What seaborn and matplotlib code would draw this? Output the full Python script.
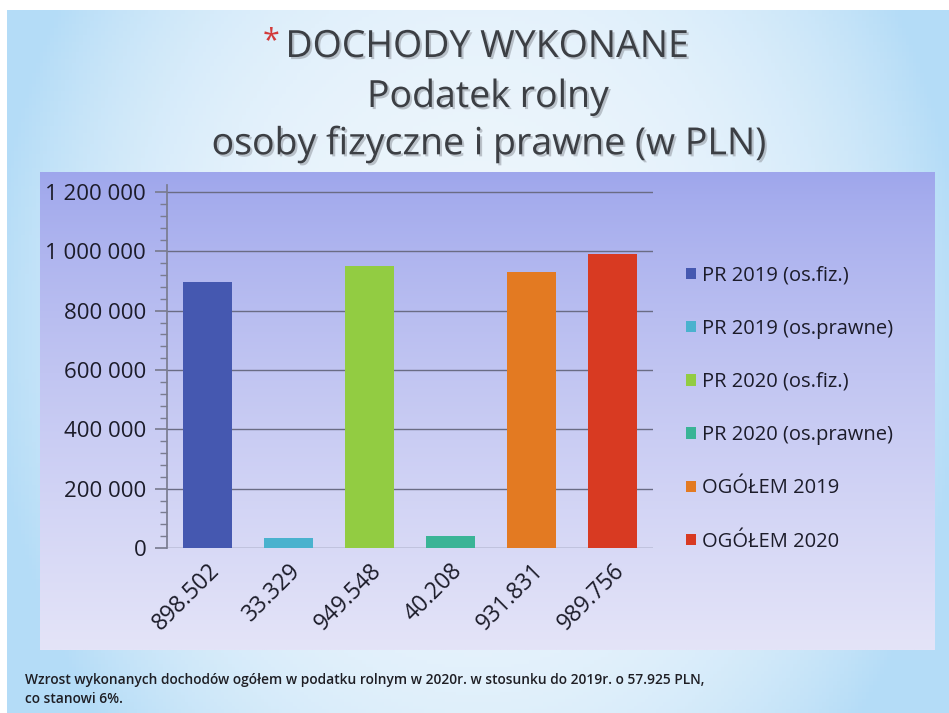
import numpy as np
import pandas as pd
import matplotlib
matplotlib.use('Agg')
import matplotlib.pyplot as plt
import matplotlib.patheffects as pe
from matplotlib.ticker import MultipleLocator, FuncFormatter
import seaborn as sns

# data
series = ['PR 2019 (os.fiz.)', 'PR 2019 (os.prawne)', 'PR 2020 (os.fiz.)',
          'PR 2020 (os.prawne)', 'OGÓŁEM 2019', 'OGÓŁEM 2020']
values = [898502, 33329, 949548, 40208, 931831, 989756]
tick_labels = ['898.502', '33.329', '949.548', '40.208', '931.831', '989.756']
colors = ['#4558B0', '#4AB2CE', '#92CC42', '#3AB496', '#E37A22', '#D83A22']

df = pd.DataFrame({'label': tick_labels, 'value': values, 'series': series})

sns.set_theme(style='white')
plt.rcParams['font.family'] = ['Open Sans', 'DejaVu Sans']

W, H = 949, 713
fig = plt.figure(figsize=(W / 100, H / 100), dpi=100)

# slide background: light blue, paler in the middle
bg = fig.add_axes([0, 0, 1, 1])
yy, xx = np.mgrid[0:1:200j, 0:1:260j]
r = np.sqrt(((xx - 0.5) / 0.52) ** 2 + ((yy - 0.45) / 0.9) ** 2)
r = np.clip(r, 0, 1) ** 3
c0 = np.array([236, 245, 252]) / 255
c1 = np.array([180, 220, 247]) / 255
img = c0 + (c1 - c0) * r[..., None]
bg.imshow(img, extent=[7, W, H, 10], aspect='auto')

# chart panel gradient
x0, x1, y0, y1 = 40, 935, 172, 650
t = np.linspace(0, 1, 200)[:, None, None]
top = np.array([158, 166, 236]) / 255
bot = np.array([228, 228, 248]) / 255
panel = (top + (bot - top) * t ** 0.8) * np.ones((1, 10, 1))
bg.imshow(panel, extent=[x0, x1, y1, y0], aspect='auto')
bg.set_xlim(0, W)
bg.set_ylim(H, 0)
bg.axis('off')

# titles
shadow = [pe.withSimplePatchShadow(offset=(1.5, -1.5), shadow_rgbFace='#9aa0a8', alpha=0.6)]
tc = '#3c3f44'
t1 = fig.text(487 / W, 1 - 47 / H, 'DOCHODY WYKONANE', color=tc, fontsize=27,
              ha='center', va='center', path_effects=shadow)
fig.text(488 / W, 1 - 97 / H, 'Podatek rolny', color=tc, fontsize=27,
         ha='center', va='center', path_effects=shadow)
fig.text(489 / W, 1 - 144 / H, 'osoby fizyczne i prawne (w PLN)', color=tc, fontsize=27,
         ha='center', va='center', path_effects=shadow)
bb = t1.get_window_extent(renderer=fig.canvas.get_renderer())
fig.text((bb.x0 - 6) / W, 1 - 41 / H, '*', color='#d23a3a', fontsize=22,
         ha='right', va='center')

# bar chart
ax = fig.add_axes([167 / W, 1 - 548 / H, 486 / W, 363 / H])
ax.patch.set_alpha(0)
sns.barplot(data=df, x='label', y='value', hue='series', palette=colors,
            dodge=False, width=0.6, saturation=1, linewidth=0, ax=ax, legend=True)
ax.set_ylim(0, 1224000)
ax.set_xlim(-0.5, 5.5)
ax.yaxis.set_major_locator(MultipleLocator(200000))
ax.yaxis.set_minor_locator(MultipleLocator(40000))
ax.yaxis.set_major_formatter(FuncFormatter(lambda v, p: f'{int(v):,}'.replace(',', ' ')))
ax.grid(axis='y', color='#6a6c84', lw=1)
ax.set_axisbelow(True)
for s in ['top', 'right', 'bottom']:
    ax.spines[s].set_visible(False)
ax.spines['left'].set_color('#7a7c90')
ax.tick_params(axis='y', which='major', length=9, color='#7a7c90', labelsize=16,
               labelcolor='#1c1c2a', pad=6, left=True)
ax.tick_params(axis='y', which='minor', length=5, color='#7a7c90', left=True)
ax.tick_params(axis='x', length=0, labelsize=16.5, labelcolor='#1c1c2a', pad=8)
for lab in ax.get_xticklabels():
    lab.set_rotation(45)
    lab.set_ha('right')
    lab.set_rotation_mode('anchor')
ax.set_xlabel('')
ax.set_ylabel('')

handles, labels = ax.get_legend_handles_labels()
ax.legend(handles, labels, loc='center left', bbox_to_anchor=(1.031, 0.384),
          frameon=False, fontsize=14.5, handlelength=0.5, handleheight=0.5,
          handletextpad=0.3, labelspacing=1.65, labelcolor='#1c1c2a')

# footer note
fig.text(25 / W, 1 - 680 / H,
         'Wzrost wykonanych dochodów ogółem w podatku rolnym w 2020r. w stosunku do 2019r. o 57.925 PLN,',
         fontsize=9.9, fontweight='semibold', color='#1e1e24', va='center')
fig.text(25 / W, 1 - 699 / H, 'co stanowi 6%.', fontsize=9.9, fontweight='semibold',
         color='#1e1e24', va='center')

fig.savefig('out.png', dpi=100)
